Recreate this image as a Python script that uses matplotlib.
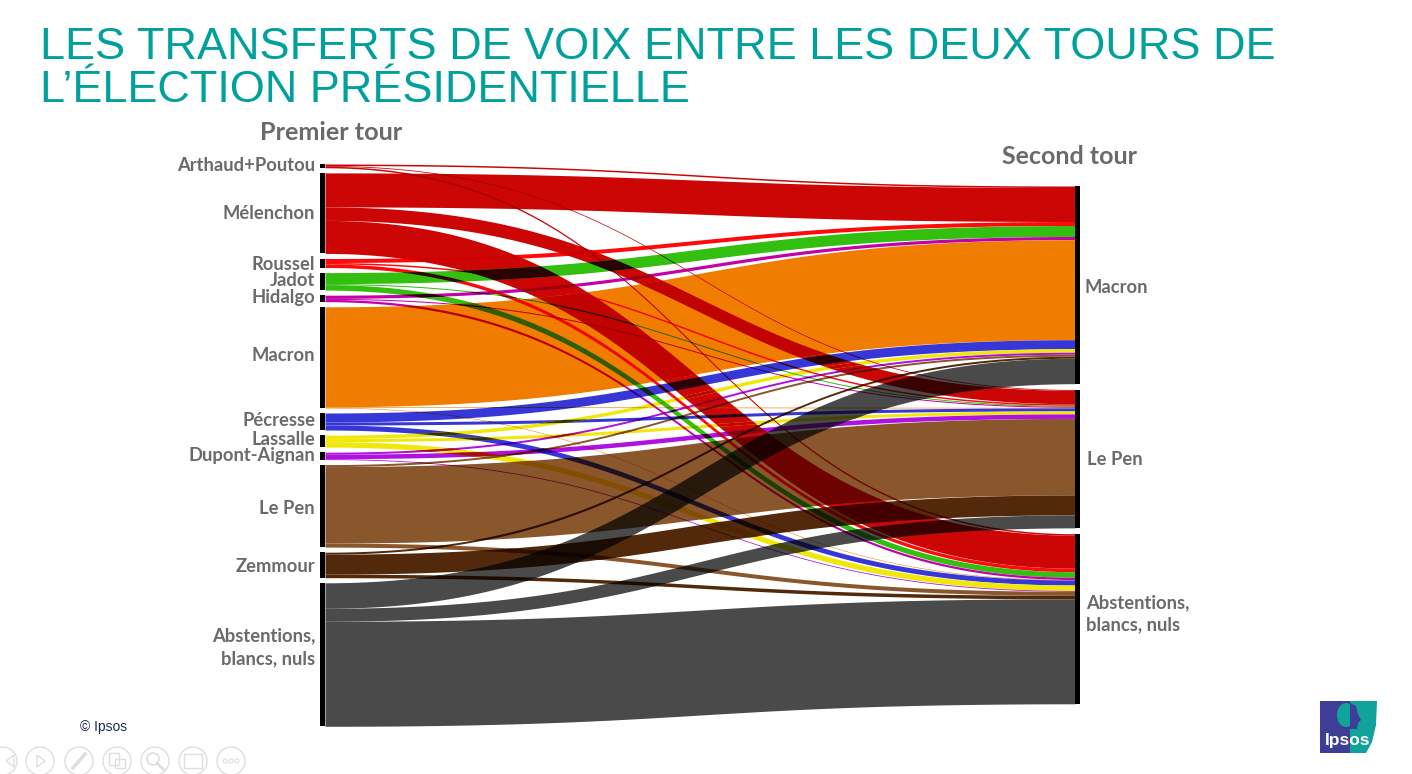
import numpy as np
import matplotlib
matplotlib.use("Agg")
import matplotlib.pyplot as plt
from matplotlib.patches import Circle, Ellipse, Polygon, Rectangle

# premier tour, top to bottom
sources = ["Arthaud+Poutou", "Mélenchon", "Roussel", "Jadot", "Hidalgo", "Macron", "Pécresse",
           "Lassalle", "Dupont-Aignan", "Le Pen", "Zemmour", "Abstentions,\nblancs, nuls"]
targets = ["Macron", "Le Pen", "Abstentions,\nblancs, nuls"]

# thickness of each transfer
to_macron = [1.5, 34, 4, 11, 3.2, 100, 9, 3.5, 2, 2, 2, 25.5]
to_lepen = [0.8, 13.5, 1.5, 1, 1, 0.6, 3, 3, 4.5, 76.5, 20, 13]
to_abst = [1.5, 33, 3.5, 5.5, 2.3, 0.5, 5, 5.5, 0.8, 4, 3.5, 105]

source_colors = ["#CC0505", "#CC0505", "#FF0A0A", "#33BF0F", "#C400A8", "#F07C00", "#3737D8",
                 "#F0E80A", "#B010E0", "#8A562C", "#52290A", "#4A4A4A"]

title = "LES TRANSFERTS DE VOIX ENTRE LES DEUX TOURS DE\nL’ÉLECTION PRÉSIDENTIELLE"

left_start = 164
left_gap = 5.1
right_start = 186
right_gap = 5.8
x_left = 325
x_right = 1075
bar_w = 5
gray = "#6A6A6C"
icon_gray = "#DEDEDE"

# label shifts from the middle of each bar
source_label_dy = [0, 0, 1.6, -0.6, -0.8, -2, -1.2, -1.4, -0.6, 2.2, 2, -7.2]
target_label_dy = [2.5, 1, -5]
target_label_dx = [10, 12, 11]

fig = plt.figure(figsize=(14.12, 7.74), dpi=100)
ax = fig.add_axes([0, 0, 1, 1])
ax.set_xlim(0, 1412)
ax.set_ylim(774, 0)
ax.axis("off")

flows = np.array([to_macron, to_lepen, to_abst]).T
source_totals = flows.sum(axis=1)
target_totals = flows.sum(axis=0)

source_tops = left_start + np.concatenate(([0], np.cumsum(source_totals[:-1] + left_gap)))
target_tops = right_start + np.concatenate(([0], np.cumsum(target_totals[:-1] + right_gap)))

# curve with flat ends, bezier with control points half way
xs = np.linspace(x_left, x_right, 751)
t = np.linspace(0, 1, 2001)
bez_x = 1.5 * t * (1 - t) + t ** 3
bez_y = 3 * t ** 2 - 2 * t ** 3
shape = np.interp((xs - x_left) / (x_right - x_left), bez_x, bez_y)

tops = []
bottoms = []
colors = []
for i in range(len(sources)):
    for j in range(len(targets)):
        y0 = source_tops[i] + flows[i, :j].sum()
        y1 = target_tops[j] + flows[:i, j].sum()
        top = y0 + (y1 - y0) * shape
        tops.append(top)
        bottoms.append(top + flows[i, j])
        colors.append(np.array(matplotlib.colors.to_rgb(source_colors[i])))
        ax.fill_between(xs, top, top + flows[i, j], color=source_colors[i], lw=0, zorder=2)


# the bands multiply where they cross
def draw_overlaps(start, lo, hi, rgb, depth):
    for k in range(start, len(tops)):
        new_lo = np.maximum(lo, tops[k])
        new_hi = np.minimum(hi, bottoms[k])
        if (new_hi - new_lo).max() <= 0.15:
            continue
        mixed = rgb * colors[k]
        ax.fill_between(xs, new_lo, new_hi, where=new_hi > new_lo, color=mixed, lw=0, zorder=2 + depth)
        draw_overlaps(k + 1, new_lo, new_hi, mixed, depth + 1)


for k in range(len(tops)):
    draw_overlaps(k + 1, tops[k], bottoms[k], colors[k], 1)

# node bars and labels
for i, name in enumerate(sources):
    ax.add_patch(Rectangle((x_left - bar_w, source_tops[i]), bar_w, source_totals[i], color="black", lw=0, zorder=20))
    ax.text(x_left - 10, source_tops[i] + source_totals[i] / 2 + source_label_dy[i], name, ha="right", va="center",
            color=gray, family="Lato", weight="bold", fontsize=13.2, linespacing=1.4, zorder=21)
for j, name in enumerate(targets):
    ax.add_patch(Rectangle((x_right, target_tops[j]), bar_w, target_totals[j], color="black", lw=0, zorder=20))
    ax.text(x_right + target_label_dx[j], target_tops[j] + target_totals[j] / 2 + target_label_dy[j], name,
            ha="left", va="center", color=gray, family="Lato", weight="bold", fontsize=13.2, linespacing=1.4,
            zorder=21)

ax.text(331, 132, "Premier tour", ha="center", va="center", color=gray, family="Lato", weight="bold", fontsize=18.2)
ax.text(1069, 156, "Second tour", ha="center", va="center", color=gray, family="Lato", weight="bold", fontsize=18)

ax.text(40, 69, title, ha="left", va="center", color="#00A09D", family="Liberation Sans", fontsize=32.4,
        linespacing=1.07)
ax.text(80, 727, "© Ipsos", ha="left", va="center", color="#1B2A5A", family="Liberation Sans", fontsize=10)

# slide controls at the bottom
for cx in [3, 40, 79, 117, 155, 193, 231]:
    ax.add_patch(Circle((cx, 761), 14, fill=False, ec=icon_gray, lw=1))
ax.add_patch(Polygon([[14, 755], [6, 761], [14, 767]], fill=False, ec=icon_gray, lw=1))
ax.add_patch(Polygon([[37, 755], [45, 761], [37, 767]], fill=False, ec=icon_gray, lw=1))
ax.plot([73, 85], [768, 754], color=icon_gray, lw=2.5)
ax.add_patch(Rectangle((109, 753), 10, 12, fill=False, ec=icon_gray, lw=1))
ax.add_patch(Rectangle((115, 759), 10, 9, fill=False, ec=icon_gray, lw=1))
ax.add_patch(Circle((153, 759), 6, fill=False, ec=icon_gray, lw=1.2))
ax.plot([157, 164], [763, 770], color=icon_gray, lw=2)
ax.add_patch(Rectangle((184, 754), 18, 14, fill=False, ec=icon_gray, lw=1))
for cx in [225, 231, 237]:
    ax.add_patch(Circle((cx, 761), 2, fill=False, ec=icon_gray, lw=0.8))

# logo
ax.add_patch(Polygon([[1320, 701], [1350, 701], [1350, 753], [1320, 753]], color="#3E3E97", lw=0))
ax.add_patch(Polygon([[1350, 701], [1377, 701], [1376, 725], [1372, 742], [1366, 753], [1350, 753]],
                     color="#0FA39B", lw=0))
ax.add_patch(Ellipse((1346, 715), 18, 24, color="#0FA39B", lw=0, zorder=3))
ax.add_patch(Polygon([[1350, 703], [1356, 706], [1358, 714], [1361, 720], [1358, 723], [1357, 729], [1350, 729]],
                     color="#3E3E97", lw=0, zorder=4))
ax.text(1348, 740, "Ipsos", ha="center", va="center", color="white", family="Liberation Sans", weight="bold",
        fontsize=12.5, zorder=5)

fig.savefig("out.png", dpi=100)
